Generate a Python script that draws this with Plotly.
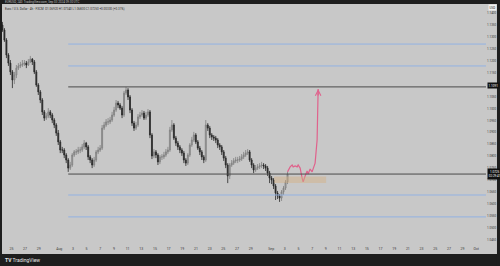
import plotly.graph_objects as go
import pandas as pd

# ---------------- data ----------------
first_open = 1.1351
closes = [1.1330, 1.1288, 1.1225, 1.1191, 1.1154, 1.1120, 1.1141, 1.1170, 1.1179, 1.1183,
          1.1187, 1.1191, 1.1183, 1.1196, 1.1208, 1.1196, 1.1154, 1.1099, 1.1070, 1.1036,
          1.0986, 1.0960, 1.0969, 1.0986, 1.0973, 1.0952, 1.0931, 1.0897, 1.0860, 1.0826,
          1.0826, 1.0805, 1.0784, 1.0750, 1.0763, 1.0805, 1.0818, 1.0818, 1.0826, 1.0826,
          1.0839, 1.0855, 1.0839, 1.0797, 1.0784, 1.0763, 1.0784, 1.0818, 1.0826, 1.0834,
          1.0918, 1.0931, 1.0944, 1.0944, 1.0952, 1.0973, 1.0994, 1.1023, 1.1015, 1.1002,
          1.0973, 1.1065, 1.1078, 1.1049, 1.0994, 1.0939, 1.0918, 1.0931, 1.0965, 1.0973,
          1.0981, 1.0960, 1.0973, 1.0986, 1.0889, 1.0801, 1.0818, 1.0805, 1.0776, 1.0797,
          1.0797, 1.0805, 1.0818, 1.0826, 1.0910, 1.0931, 1.0876, 1.0855, 1.0839, 1.0826,
          1.0813, 1.0784, 1.0771, 1.0805, 1.0847, 1.0868, 1.0889, 1.0860, 1.0834, 1.0818,
          1.0797, 1.0784, 1.0931, 1.0918, 1.0889, 1.0881, 1.0876, 1.0868, 1.0847, 1.0839,
          1.0818, 1.0792, 1.0763, 1.0717, 1.0763, 1.0771, 1.0780, 1.0784, 1.0784, 1.0788,
          1.0797, 1.0805, 1.0813, 1.0818, 1.0784, 1.0763, 1.0742, 1.0750, 1.0755, 1.0759,
          1.0763, 1.0759, 1.0750, 1.0729, 1.0708, 1.0700, 1.0675, 1.0645, 1.0633, 1.0624,
          1.0650, 1.0666, 1.0692, 1.0725]
highs = [1.1364, 1.1338, 1.1296, 1.1233, 1.1204, 1.1162, 1.1154, 1.1183, 1.1191, 1.1196,
         1.1204, 1.1204, 1.1200, 1.1208, 1.1221, 1.1212, 1.1204, 1.1162, 1.1107, 1.1078,
         1.1044, 1.0994, 1.0981, 1.1002, 1.0994, 1.0981, 1.0960, 1.0939, 1.0910, 1.0868,
         1.0839, 1.0834, 1.0813, 1.0792, 1.0776, 1.0813, 1.0826, 1.0830, 1.0839, 1.0839,
         1.0851, 1.0868, 1.0860, 1.0847, 1.0805, 1.0792, 1.0797, 1.0826, 1.0839, 1.0847,
         1.0931, 1.0944, 1.0956, 1.0960, 1.0965, 1.0986, 1.1007, 1.1036, 1.1032, 1.1023,
         1.1011, 1.1074, 1.1091, 1.1086, 1.1057, 1.1002, 1.0948, 1.0944, 1.0977, 1.0986,
         1.0994, 1.0990, 1.0986, 1.0998, 1.0994, 1.0897, 1.0830, 1.0826, 1.0813, 1.0805,
         1.0809, 1.0818, 1.0830, 1.0839, 1.0923, 1.0952, 1.0939, 1.0885, 1.0864, 1.0847,
         1.0834, 1.0822, 1.0792, 1.0813, 1.0855, 1.0881, 1.0902, 1.0897, 1.0868, 1.0843,
         1.0826, 1.0805, 1.0952, 1.0939, 1.0927, 1.0897, 1.0889, 1.0885, 1.0876, 1.0855,
         1.0847, 1.0826, 1.0801, 1.0771, 1.0771, 1.0784, 1.0792, 1.0797, 1.0797, 1.0801,
         1.0809, 1.0818, 1.0826, 1.0830, 1.0826, 1.0792, 1.0771, 1.0763, 1.0767, 1.0771,
         1.0776, 1.0771, 1.0767, 1.0759, 1.0738, 1.0717, 1.0708, 1.0683, 1.0654, 1.0641,
         1.0658, 1.0675, 1.0700, 1.0734]
lows = [1.1322, 1.1280, 1.1212, 1.1179, 1.1141, 1.1086, 1.1103, 1.1128, 1.1162, 1.1170,
        1.1175, 1.1179, 1.1170, 1.1179, 1.1191, 1.1183, 1.1145, 1.1091, 1.1057, 1.1023,
        1.0973, 1.0948, 1.0952, 1.0960, 1.0960, 1.0939, 1.0918, 1.0885, 1.0847, 1.0813,
        1.0813, 1.0792, 1.0771, 1.0734, 1.0742, 1.0755, 1.0797, 1.0805, 1.0809, 1.0813,
        1.0818, 1.0830, 1.0826, 1.0784, 1.0771, 1.0750, 1.0755, 1.0776, 1.0809, 1.0818,
        1.0826, 1.0910, 1.0923, 1.0931, 1.0935, 1.0944, 1.0965, 1.0986, 1.1002, 1.0994,
        1.0960, 1.0965, 1.1057, 1.1036, 1.0981, 1.0927, 1.0906, 1.0910, 1.0923, 1.0956,
        1.0965, 1.0952, 1.0952, 1.0965, 1.0876, 1.0788, 1.0792, 1.0792, 1.0763, 1.0767,
        1.0784, 1.0788, 1.0797, 1.0809, 1.0818, 1.0902, 1.0868, 1.0843, 1.0826, 1.0813,
        1.0801, 1.0771, 1.0759, 1.0763, 1.0797, 1.0839, 1.0860, 1.0851, 1.0826, 1.0805,
        1.0784, 1.0771, 1.0776, 1.0906, 1.0876, 1.0868, 1.0864, 1.0855, 1.0834, 1.0826,
        1.0805, 1.0780, 1.0750, 1.0687, 1.0704, 1.0755, 1.0763, 1.0771, 1.0771, 1.0776,
        1.0780, 1.0788, 1.0797, 1.0805, 1.0776, 1.0750, 1.0729, 1.0734, 1.0742, 1.0746,
        1.0750, 1.0746, 1.0738, 1.0717, 1.0687, 1.0683, 1.0662, 1.0616, 1.0620, 1.0608,
        1.0612, 1.0637, 1.0658, 1.0683]
opens = [first_open] + closes[:-1]
first_bar = "2024-07-23 16:30"
bar_freq = "7h"
times = pd.date_range(first_bar, periods=len(closes), freq=bar_freq)

# horizontal levels
black_levels = [1.1091, 1.0725]
blue_levels = [1.1271, 1.1179, 1.0637, 1.0545]
levels_start = "2024-08-02 07:30"

# demand zone
zone_start, zone_end = "2024-09-01 10:30", "2024-09-09 01:00"
zone_low, zone_high = 1.0687, 1.0715

# projected path
proj_times = ["2024-09-03 09:30", "2024-09-03 18:40", "2024-09-04 01:40", "2024-09-04 05:15",
              "2024-09-04 12:15", "2024-09-04 19:15", "2024-09-04 22:50", "2024-09-05 05:45",
              "2024-09-05 12:45", "2024-09-05 16:20", "2024-09-05 23:20", "2024-09-06 06:15",
              "2024-09-06 09:50", "2024-09-06 16:50", "2024-09-06 23:45", "2024-09-07 03:20",
              "2024-09-07 10:20", "2024-09-07 17:20", "2024-09-07 20:00", "2024-09-07 21:00"]
proj_prices = [1.0734, 1.0755, 1.0763, 1.0755, 1.0759, 1.0755, 1.0763, 1.0750, 1.0708, 1.0692,
               1.0717, 1.0738, 1.0725, 1.0746, 1.0734, 1.0746, 1.0771, 1.0868, 1.0986, 1.1082]

# axes
x_range = ["2024-07-23 15:00", "2024-10-02 10:20"]
y_range = [1.0427, 1.1435]
time_ticks = ["2024-07-25", "2024-07-27", "2024-07-29", "2024-08-01", "2024-08-03", "2024-08-05",
              "2024-08-07", "2024-08-09", "2024-08-11", "2024-08-13", "2024-08-15", "2024-08-17",
              "2024-08-19", "2024-08-21", "2024-08-23", "2024-08-25", "2024-08-27", "2024-08-29",
              "2024-09-01", "2024-09-03", "2024-09-05", "2024-09-07", "2024-09-09", "2024-09-11",
              "2024-09-13", "2024-09-15", "2024-09-17", "2024-09-19", "2024-09-21", "2024-09-23",
              "2024-09-25", "2024-09-27", "2024-09-29", "2024-10-01"]
time_labels = ["25", "27", "29", "Aug", "3", "5", "7", "9", "11", "13", "15", "17", "19", "21",
               "23", "25", "27", "29", "Sep", "3", "5", "7", "9", "11", "13", "15", "17", "19",
               "21", "23", "25", "27", "29", "Oct"]
# 1.1100 sits behind the level's price box, so it is not shown
price_ticks = [1.0450, 1.0500, 1.0550, 1.0600, 1.0650, 1.0700, 1.0750, 1.0800, 1.0850, 1.0900,
               1.0950, 1.1000, 1.1050, 1.1150, 1.1200, 1.1250, 1.1300, 1.1350, 1.1400]
price_labels = [f"{v:.4f}" for v in price_ticks]

header_text = "EURUSD, 240  TradingView.com, Sep 03 2024 09:30 UTC"
legend_text = "Euro / U.S. Dollar · 4h · FXCM  O1.06920 H1.07340 L1.06830 C1.07250 +0.00330 (+0.31%)"
currency_text = "USD"
last_price_text = "1.0725<br>02:29:41"
level_label_text = "1.1091"
logo_text = "<b>TV</b> TradingView"

# ---------------- styles ----------------
BG = "#c8c8c8"
DARK = "#1e1e1e"
FONT = "Roboto"

fig = go.Figure()

fig.add_trace(go.Candlestick(
    x=times, open=opens, high=highs, low=lows, close=closes,
    increasing=dict(line=dict(color="#7d7d7d", width=0.8), fillcolor="#a9a9a9"),
    decreasing=dict(line=dict(color="#262626", width=0.8), fillcolor="#2e2e2e"),
    whiskerwidth=0, showlegend=False, hoverinfo="skip"))

for lv in blue_levels:
    fig.add_shape(type="line", xref="x", yref="y", x0=levels_start, x1=x_range[1],
                  y0=lv, y1=lv, line=dict(color="#93b2e3", width=1))
for lv in black_levels:
    fig.add_shape(type="line", xref="x", yref="y", x0=levels_start, x1=x_range[1],
                  y0=lv, y1=lv, line=dict(color="#4a4a4a", width=1))

fig.add_shape(type="rect", xref="x", yref="y", x0=zone_start, x1=zone_end,
              y0=zone_low, y1=zone_high, line=dict(width=0),
              fillcolor="rgba(212,176,128,0.45)")

fig.add_trace(go.Scatter(x=proj_times, y=proj_prices, mode="lines",
                         line=dict(color="#e0628c", width=1.2), showlegend=False,
                         hoverinfo="skip"))
fig.add_annotation(x=proj_times[-1], y=proj_prices[-1], xref="x", yref="y", text="",
                   showarrow=True, ax=0, ay=8, arrowhead=5, arrowsize=0.9, arrowwidth=1.2,
                   arrowcolor="#e0628c", standoff=0)

# frame (dark borders of the screenshot)
for x0, x1, y0, y1 in [(-0.02, 1.05, 1.0042, 1.05), (-0.02, 1.05, -0.0375, -0.12),
                       (-0.02, 0.0, -0.12, 1.05), (1.0227, 1.05, -0.12, 1.05)]:
    fig.add_shape(type="rect", xref="paper", yref="paper", x0=x0, x1=x1, y0=y0, y1=y1,
                  fillcolor=DARK, line=dict(width=0), layer="above")

fig.add_annotation(xref="paper", yref="paper", x=0.002, y=1.0125, text=header_text,
                   showarrow=False, xanchor="left", yanchor="middle",
                   font=dict(family=FONT, size=3, color="#bdbdbd"))
fig.add_annotation(xref="paper", yref="paper", x=0.002, y=0.985, text=legend_text,
                   showarrow=False, xanchor="left", yanchor="middle",
                   font=dict(family=FONT, size=3, color="#2a2a2a"))
fig.add_annotation(xref="paper", yref="paper", x=0.002, y=-0.0625, text=logo_text,
                   showarrow=False, xanchor="left", yanchor="middle",
                   font=dict(family=FONT, size=5, color="#e8e8e8"))
fig.add_annotation(xref="paper", yref="paper", x=1.004, y=0.9875, text=currency_text,
                   showarrow=False, xanchor="left", yanchor="middle", bgcolor="#f2f2f2",
                   borderpad=0.5, font=dict(family=FONT, size=3, color="#222"))
fig.add_annotation(xref="paper", yref="y", x=1.003, y=black_levels[0] + 0.0007,
                   text=level_label_text, showarrow=False, xanchor="left", yanchor="middle",
                   bgcolor="#111111", borderpad=0.6, font=dict(family=FONT, size=3, color="#fff"))
fig.add_annotation(xref="paper", yref="y", x=1.003, y=black_levels[1],
                   text=last_price_text, showarrow=False, xanchor="left", yanchor="middle",
                   bgcolor="#111111", borderpad=0.8, font=dict(family=FONT, size=3, color="#fff"))

fig.update_layout(
    width=500, height=266, margin=dict(l=2, r=14, t=5, b=21),
    paper_bgcolor=BG, plot_bgcolor=BG, showlegend=False,
    xaxis=dict(type="date", range=x_range, tickvals=time_ticks, ticktext=time_labels,
               showgrid=False, zeroline=False, showline=False, ticks="",
               rangeslider=dict(visible=False),
               tickfont=dict(family=FONT, size=3.5, color="#3a3a3a")),
    yaxis=dict(side="right", range=y_range, tickvals=price_ticks, ticktext=price_labels,
               showgrid=False, zeroline=False, showline=False, ticks="",
               tickfont=dict(family=FONT, size=3, color="#3a3a3a")),
)

fig.write_html("out.html")
